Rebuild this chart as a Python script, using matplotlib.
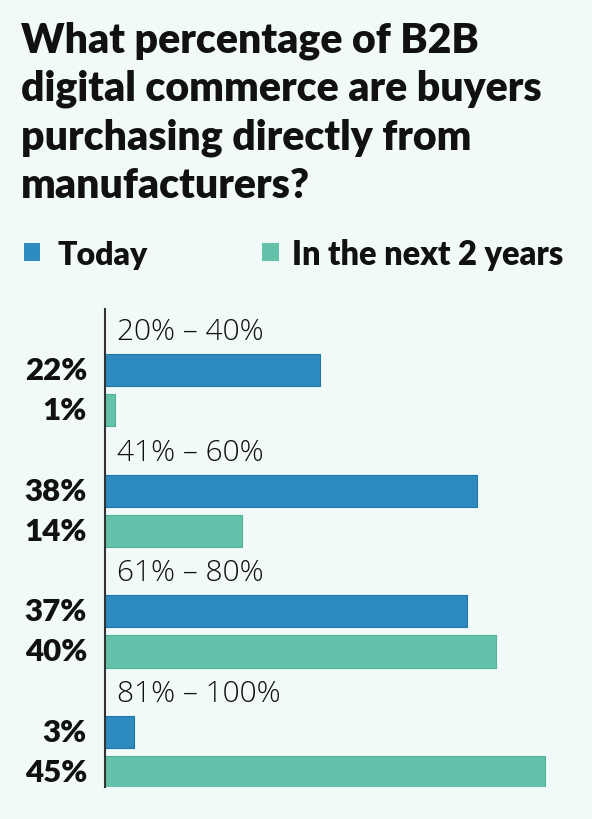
import matplotlib
matplotlib.use("Agg")
import matplotlib.pyplot as plt
import matplotlib.transforms as mtransforms

# Data
categories = ["20% \u2013 40%", "41% \u2013 60%", "61% \u2013 80%", "81% \u2013 100%"]
today = [22, 38, 37, 3]
next2 = [1, 14, 40, 45]
series_names = ["Today", "In the next 2 years"]
title = "What percentage of B2B\ndigital commerce are buyers\npurchasing directly from\nmanufacturers?"

BLUE = "#2E8BC0"
GREEN = "#62C3AA"
BG = "#F1FAF9"
FONT = "Lato"

W, H = 592, 820
fig = plt.figure(figsize=(W / 100, H / 100), dpi=100, facecolor=BG)

def px(x, y):
    return x / W, 1 - y / H

# Title
fig.text(*px(21, 21), title, ha="left", va="top", fontsize=29.5, fontweight="heavy",
         family=FONT, color="#111111", linespacing=1.33)

# Legend
fig.patches.append(plt.Rectangle(px(24, 262), 16 / W, 18 / H, transform=fig.transFigure,
                                 facecolor=BLUE, edgecolor="none"))
fig.text(*px(57, 255), series_names[0], ha="left", va="center", fontsize=23,
         fontweight="heavy", family=FONT, color="#111111")
fig.patches.append(plt.Rectangle(px(262, 262), 17 / W, 18 / H, transform=fig.transFigure,
                                 facecolor=GREEN, edgecolor="none"))
fig.text(*px(292, 255), series_names[1], ha="left", va="center", fontsize=23.5,
         fontweight="heavy", family=FONT, color="#111111")

# Axes
left, right, top, bottom = 105, 580, 310, 788
ax = fig.add_axes([left / W, 1 - bottom / H, (right - left) / W, (bottom - top) / H])
ax.set_facecolor(BG)
xmax = (right - left) / 9.78
ax.set_xlim(0, xmax)
ax.set_ylim(11.375, -0.525)

trans = mtransforms.blended_transform_factory(ax.transAxes, ax.transData)
for g, cat in enumerate(categories):
    yt = 3 * g + 1
    yn = 3 * g + 2
    ax.barh(yt, today[g], height=0.8, color=BLUE, edgecolor="#1F77A8", linewidth=0.8)
    ax.barh(yn, next2[g], height=0.8, color=GREEN, edgecolor="#52B096", linewidth=0.8)
    ax.text(1.23, 3 * g + 0.03, cat, ha="left", va="center", fontsize=21.5,
            fontweight="light", family="Open Sans", color="#111111")
    ax.text(-18 / (right - left), yt, f"{today[g]}%", transform=trans, ha="right",
            va="center", fontsize=22.5, fontweight="heavy", family=FONT, color="#111111")
    ax.text(-18 / (right - left), yn, f"{next2[g]}%", transform=trans, ha="right",
            va="center", fontsize=22.5, fontweight="heavy", family=FONT, color="#111111")

for s in ["top", "right", "bottom"]:
    ax.spines[s].set_visible(False)
ax.spines["left"].set_color("#333333")
ax.spines["left"].set_linewidth(1.5)
ax.set_xticks([])
ax.set_yticks([])

fig.savefig("out.png", dpi=100, facecolor=BG)
